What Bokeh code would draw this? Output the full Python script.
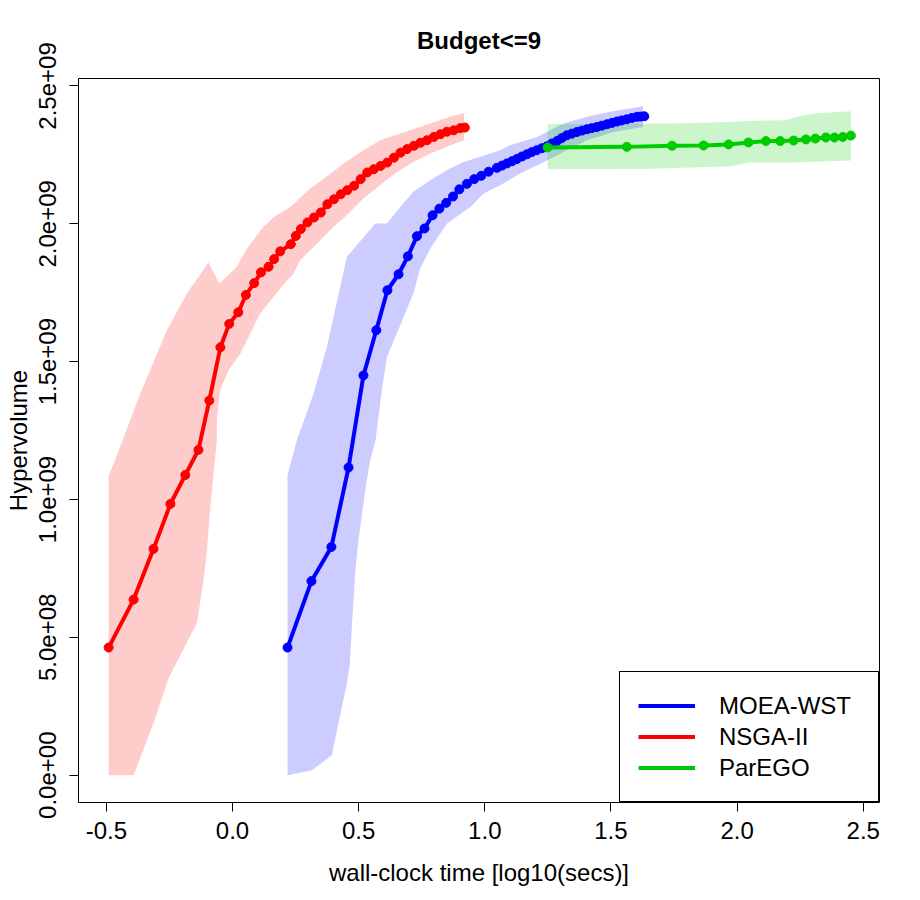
import numpy as np
from bokeh.plotting import figure
from bokeh.models import Range1d, FixedTicker, Legend, LegendItem
from bokeh.embed import file_html
from bokeh.resources import INLINE

HV_SCALE = 1e9  # hypervolume values below are in units of 1e9

# ---- NSGA-II (red) ----
nsga_x = [-0.491, -0.392, -0.313, -0.246, -0.187, -0.135, -0.092, -0.048, -0.013, 0.023,
          0.053, 0.086, 0.113, 0.143, 0.165, 0.189, 0.231, 0.251, 0.271, 0.297,
          0.323, 0.350, 0.376, 0.402, 0.429, 0.455, 0.482, 0.508, 0.534, 0.560,
          0.587, 0.613, 0.640, 0.666, 0.692, 0.719, 0.745, 0.771, 0.798, 0.824,
          0.850, 0.877, 0.903, 0.921]
nsga_hv = [0.463, 0.637, 0.821, 0.984, 1.089, 1.180, 1.359, 1.552, 1.637, 1.679,
           1.742, 1.785, 1.824, 1.844, 1.872, 1.900, 1.926, 1.956, 1.981, 2.005,
           2.023, 2.041, 2.071, 2.089, 2.107, 2.122, 2.138, 2.162, 2.186, 2.198,
           2.210, 2.222, 2.240, 2.258, 2.271, 2.283, 2.294, 2.303, 2.315, 2.325,
           2.334, 2.339, 2.347, 2.349]
nsga_up_x = [-0.491, -0.465, -0.366, -0.260, -0.181, -0.095, -0.052, 0.017, 0.057, 0.117,
             0.163, 0.229, 0.308, 0.380, 0.440, 0.519, 0.585, 0.704, 0.783, 0.862, 0.918]
nsga_up_hv = [1.088, 1.143, 1.384, 1.614, 1.747, 1.860, 1.783, 1.844, 1.910, 1.983,
              2.025, 2.061, 2.128, 2.176, 2.219, 2.267, 2.303, 2.339, 2.364, 2.388, 2.402]
nsga_lo_x = [-0.491, -0.392, -0.313, -0.254, -0.141, -0.135, -0.115, -0.101, -0.088, -0.075,
             -0.062, -0.062, -0.049, -0.016, 0.031, 0.057, 0.110, 0.189, 0.242, 0.268,
             0.335, 0.400, 0.453, 0.519, 0.585, 0.652, 0.717, 0.784, 0.850, 0.918]
nsga_lo_hv = [0.0, 0.0, 0.188, 0.351, 0.552, 0.586, 0.707, 0.816, 0.973, 1.094,
              1.215, 1.288, 1.396, 1.469, 1.529, 1.577, 1.675, 1.765, 1.820, 1.868,
              1.928, 1.989, 2.031, 2.092, 2.140, 2.188, 2.224, 2.255, 2.279, 2.303]

# ---- MOEA-WST (blue) ----
moea_x = [0.218, 0.313, 0.392, 0.460, 0.519, 0.570, 0.614, 0.658, 0.695, 0.731,
          0.761, 0.793, 0.820, 0.847, 0.874, 0.899, 0.929, 0.958, 0.986, 1.015,
          1.048, 1.068, 1.088, 1.108, 1.127, 1.147, 1.167, 1.186, 1.206, 1.226,
          1.246, 1.266, 1.286, 1.305, 1.325, 1.345, 1.365, 1.385, 1.405, 1.424,
          1.444, 1.464, 1.484, 1.504, 1.524, 1.543, 1.563, 1.583, 1.603, 1.618, 1.632]
moea_hv = [0.463, 0.704, 0.828, 1.116, 1.450, 1.614, 1.759, 1.817, 1.882, 1.955,
           1.983, 2.031, 2.055, 2.076, 2.099, 2.125, 2.145, 2.162, 2.174, 2.189,
           2.203, 2.211, 2.219, 2.227, 2.235, 2.244, 2.252, 2.260, 2.267, 2.274,
           2.281, 2.291, 2.300, 2.311, 2.321, 2.327, 2.333, 2.338, 2.343, 2.347,
           2.351, 2.356, 2.361, 2.366, 2.371, 2.375, 2.379, 2.384, 2.388, 2.389, 2.390]
moea_up_x = [0.218, 0.255, 0.321, 0.374, 0.453, 0.566, 0.612, 0.665, 0.717, 0.784,
             0.850, 0.916, 0.982, 1.061, 1.101, 1.206, 1.312, 1.405, 1.497, 1.627]
moea_up_hv = [1.088, 1.215, 1.384, 1.553, 1.880, 2.001, 2.001, 2.061, 2.116, 2.158,
              2.195, 2.224, 2.243, 2.267, 2.285, 2.315, 2.364, 2.388, 2.406, 2.426]
moea_lo_x = [0.218, 0.315, 0.394, 0.414, 0.453, 0.464, 0.473, 0.486, 0.499, 0.517,
             0.530, 0.546, 0.567, 0.592, 0.612, 0.665, 0.717, 0.744, 0.784, 0.850,
             0.943, 0.995, 1.061, 1.140, 1.246, 1.325, 1.405, 1.510, 1.627]
moea_lo_hv = [0.0, 0.018, 0.073, 0.163, 0.333, 0.393, 0.538, 0.732, 0.852, 0.973,
              1.058, 1.143, 1.215, 1.396, 1.517, 1.632, 1.748, 1.838, 1.910, 2.001,
              2.061, 2.110, 2.140, 2.182, 2.230, 2.267, 2.303, 2.333, 2.351]

# ---- ParEGO (green) ----
parego_x = [1.249, 1.563, 1.742, 1.867, 1.966, 2.045, 2.114, 2.171, 2.224, 2.273,
            2.310, 2.352, 2.386, 2.419, 2.451]
parego_hv = [2.277, 2.279, 2.283, 2.284, 2.288, 2.295, 2.300, 2.300, 2.302, 2.306,
             2.309, 2.313, 2.313, 2.315, 2.320]
parego_up_x = [1.249, 1.735, 1.966, 2.045, 2.191, 2.237, 2.303, 2.451]
parego_up_hv = [2.361, 2.364, 2.369, 2.373, 2.376, 2.388, 2.400, 2.408]
parego_lo_x = [1.249, 1.656, 1.979, 2.045, 2.224, 2.451]
parego_lo_hv = [2.198, 2.200, 2.209, 2.222, 2.222, 2.230]

x_ticks = [-0.5, 0.0, 0.5, 1.0, 1.5, 2.0, 2.5]
x_tick_labels = ["-0.5", "0.0", "0.5", "1.0", "1.5", "2.0", "2.5"]
y_ticks = [0.0, 0.5e9, 1.0e9, 1.5e9, 2.0e9, 2.5e9]
y_tick_labels = ["0.0e+00", "5.0e+08", "1.0e+09", "1.5e+09", "2.0e+09", "2.5e+09"]

FONT = "Liberation Sans"

p = figure(frame_width=801, frame_height=724,
           min_border_left=78, min_border_right=21, min_border_top=78, min_border_bottom=82,
           x_range=Range1d(-0.6104, 2.5644), y_range=Range1d(-0.0990e9, 2.5270e9),
           output_backend="svg", toolbar_location=None,
           title="Budget<=9")
p.background_fill_color = "white"
p.border_fill_color = "white"
p.outline_line_color = "black"
p.outline_line_width = 1
p.outline_line_alpha = 1.0
p.xgrid.visible = False
p.ygrid.visible = False

p.title.align = "center"
p.title.text_font = FONT
p.title.text_font_size = "24px"
p.title.text_font_style = "bold"
p.title.text_color = "black"
p.title.standoff = 49

for ax in (p.xaxis[0], p.yaxis[0]):
    ax.axis_line_color = None
    ax.major_tick_out = 9
    ax.major_tick_in = 0
    ax.major_tick_line_color = "black"
    ax.minor_tick_line_color = None
    ax.major_label_text_font = FONT
    ax.major_label_text_font_size = "24px"
    ax.major_label_text_color = "black"
    ax.axis_label_text_font = FONT
    ax.axis_label_text_font_size = "24px"
    ax.axis_label_text_font_style = "normal"
    ax.axis_label_text_color = "black"

xa = p.xaxis[0]
xa.ticker = FixedTicker(ticks=x_ticks)
xa.major_label_overrides = dict(zip(x_ticks, x_tick_labels))
xa.axis_label = "wall-clock time [log10(secs)]"
xa.major_label_standoff = 10
xa.axis_label_standoff = 17

ya = p.yaxis[0]
ya.ticker = FixedTicker(ticks=y_ticks)
ya.major_label_overrides = dict(zip(y_ticks, y_tick_labels))
ya.major_label_orientation = "vertical"
ya.axis_label = "Hypervolume"
ya.major_label_standoff = 13
ya.axis_label_standoff = 5

def band(xu, yu, xl, yl):
    xs = list(xu) + list(xl)[::-1]
    ys = list(np.array(yu) * HV_SCALE) + list(np.array(yl)[::-1] * HV_SCALE)
    return xs, ys

BLUE, RED, GREEN = "#0000FF", "#FF0000", "#00CD00"

bx, by = band(moea_up_x, moea_up_hv, moea_lo_x, moea_lo_hv)
p.patch(bx, by, fill_color=BLUE, fill_alpha=0.2, line_color=None)
rx, ry = band(nsga_up_x, nsga_up_hv, nsga_lo_x, nsga_lo_hv)
p.patch(rx, ry, fill_color=RED, fill_alpha=0.2, line_color=None)
gx, gy = band(parego_up_x, parego_up_hv, parego_lo_x, parego_lo_hv)
p.patch(gx, gy, fill_color=GREEN, fill_alpha=0.2, line_color=None)

items = []
for name, xs, hv, col in [("MOEA-WST", moea_x, moea_hv, BLUE),
                          ("NSGA-II", nsga_x, nsga_hv, RED),
                          ("ParEGO", parego_x, parego_hv, GREEN)]:
    yy = np.array(hv) * HV_SCALE
    ln = p.line(xs, yy, line_color=col, line_width=4)
    p.scatter(xs, yy, marker="circle", size=9, fill_color=col, line_color=col)
    items.append(LegendItem(label=name, renderers=[ln]))

legend = Legend(items=items, location="bottom_right", margin=0,
                padding=18, spacing=0, glyph_width=57, glyph_height=31,
                label_height=31, label_width=141, label_standoff=24,
                label_text_font=FONT, label_text_font_size="24px",
                label_text_color="black", border_line_color="black",
                border_line_width=1, border_line_alpha=1.0,
                background_fill_color="white", background_fill_alpha=1.0)
p.add_layout(legend)

open("out.html", "w").write(file_html(p, INLINE))
